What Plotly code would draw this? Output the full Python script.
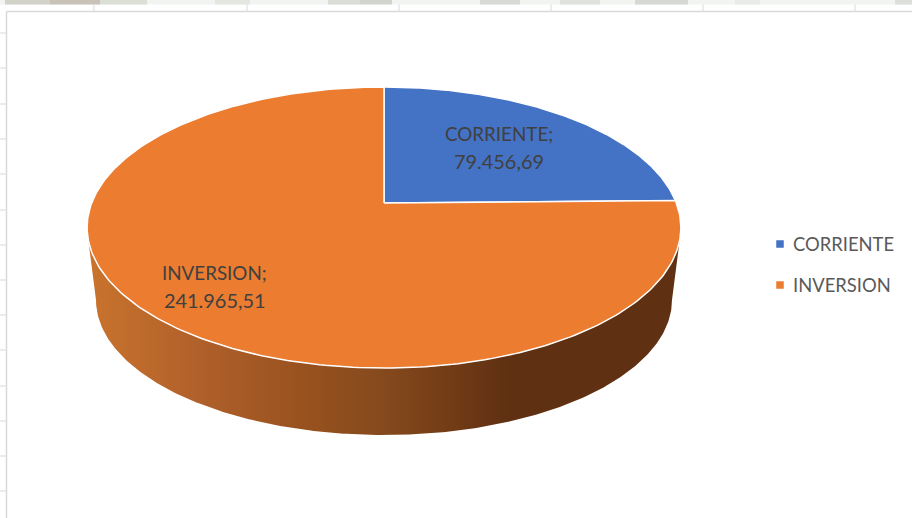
import numpy as np
import plotly.graph_objects as go

# Data
categories = ["CORRIENTE", "INVERSION"]
values = [79456.69, 241965.51]
slice_colors = ["#4472C4", "#EB7C30"]
value_labels = ["79.456,69", "241.965,51"]

# Wall shading (pixel x, colour)
wall_stops = [(88, "#C9732D"), (200, "#B0602A"), (300, "#99521F"), (380, "#864A1D"),
              (450, "#723C16"), (510, "#5F3012"), (680, "#5F3012")]

# Sheet furniture behind the chart
top_ticks = [94, 247, 399, 551, 703, 855]
left_ticks = [33, 68, 104, 139, 174, 210, 245, 280, 315, 350, 386, 421, 456, 491]
strip_patches = [(5, 50, "#d2d2c8"), (50, 100, "#c8c2b8"), (100, 147, "#dcdfd5"), (215, 250, "#e4e7e0"),
                 (328, 360, "#dadcd6"), (360, 392, "#d2d4ce"), (480, 520, "#d8dad6"), (560, 600, "#e0e2de"),
                 (635, 688, "#d6d8d4"), (735, 760, "#e8ebe8"), (895, 912, "#dcdfda")]

# Projection of the pie disc onto the page
CX, APEX_Y, K, W, H = 384.0, 203.0, 5.73, 1675.0, 781.0


def project(theta):
    return CX + W * np.sin(theta) / (K + np.cos(theta)), APEX_Y - H * np.cos(theta) / (K + np.cos(theta))


fig = go.Figure()

# Side wall: lower part of the rim down to a slightly narrower bottom edge
BOT_RX, BOT_CY, BOT_RY = 288.0, 300.0, 135.0
rim_x, rim_y = project(np.linspace(np.radians(258), np.radians(102), 400))
bt = np.linspace(np.pi, 0, 300)
bot_x = CX + BOT_RX * np.cos(bt)
bot_y = BOT_CY + BOT_RY * np.sin(bt)
wall_x = np.concatenate([rim_x, bot_x[::-1]])
wall_y = np.concatenate([rim_y, bot_y[::-1]])
span = wall_stops[-1][0] - wall_stops[0][0]
fig.add_trace(go.Scatter(
    x=wall_x, y=wall_y, mode="lines", line=dict(width=0), fill="toself", hoverinfo="skip",
    fillgradient=dict(type="horizontal", start=wall_stops[0][0], stop=wall_stops[-1][0],
                      colorscale=[[(p - wall_stops[0][0]) / span, c] for p, c in wall_stops]),
    showlegend=False))

# Pie top, one wedge per value
total = sum(values)
start = 0.0
for name, v, col in zip(categories, values, slice_colors):
    end = start + 2 * np.pi * v / total
    t = np.linspace(start, end, 300)
    ax, ay = project(t)
    fig.add_trace(go.Scatter(
        x=np.concatenate([[CX], ax, [CX]]), y=np.concatenate([[APEX_Y], ay, [APEX_Y]]),
        mode="lines", line=dict(color="white", width=1.5), fill="toself", fillcolor=col,
        name=name, showlegend=False, hoverinfo="name"))
    start = end

# Hand-placed legend
leg_y = [244, 285]
fig.add_trace(go.Scatter(
    x=[780, 780], y=leg_y, mode="markers",
    marker=dict(symbol="square", size=7.5, color=slice_colors, line=dict(width=0)),
    showlegend=False, hoverinfo="skip"))

annotations = []
for name, yy in zip(categories, leg_y):
    annotations.append(dict(x=791, y=yy, text=name, showarrow=False, xanchor="left", yanchor="middle",
                            font=dict(family="Lato", size=18.4, color="#595959")))
label_pos = [(499, 133, 161), (214.5, 272, 300)]
for name, lab, (lx, y1, y2) in zip(categories, value_labels, label_pos):
    annotations.append(dict(x=lx, y=y1, text=name + ";", showarrow=False, xanchor="center", yanchor="middle",
                            font=dict(family="Lato", size=18.8, color="#404040")))
    annotations.append(dict(x=lx, y=y2, text=lab, showarrow=False, xanchor="center", yanchor="middle",
                            font=dict(family="Lato", size=19.9, color="#404040")))

shapes = [dict(type="rect", x0=0, x1=912, y0=0, y1=4.5, fillcolor="#f1f4f1", line=dict(width=0), layer="below")]
for a, b, c in strip_patches:
    shapes.append(dict(type="rect", x0=a, x1=b, y0=0, y1=4.5, fillcolor=c, line=dict(width=0), layer="below"))
GRID = "#d9d9d9"
shapes.append(dict(type="line", x0=6.5, x1=912, y0=11.5, y1=11.5, line=dict(color=GRID, width=1.5), layer="below"))
shapes.append(dict(type="line", x0=6.5, x1=6.5, y0=11.5, y1=518, line=dict(color=GRID, width=1.5), layer="below"))
for tx in top_ticks:
    shapes.append(dict(type="line", x0=tx, x1=tx, y0=4.5, y1=11.5, line=dict(color=GRID, width=1), layer="below"))
for ty in left_ticks:
    shapes.append(dict(type="line", x0=0, x1=6.5, y0=ty, y1=ty, line=dict(color=GRID, width=1), layer="below"))

fig.update_layout(
    width=912, height=518, margin=dict(l=0, r=0, t=0, b=0, pad=0), autosize=False,
    paper_bgcolor="white", plot_bgcolor="white", showlegend=False,
    xaxis=dict(range=[0, 912], visible=False, fixedrange=True),
    yaxis=dict(range=[518, 0], visible=False, fixedrange=True),
    shapes=shapes, annotations=annotations,
)
fig.write_html("out.html", config={"displayModeBar": False},
               post_script="document.body.style.margin='0';document.body.style.overflow='hidden';")
